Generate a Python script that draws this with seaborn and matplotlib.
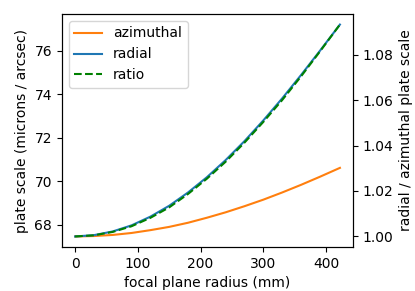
import matplotlib
matplotlib.use("Agg")
import matplotlib.pyplot as plt
import seaborn as sns
import pandas as pd

# values
radius_mm = [0, 30, 60, 90, 120, 150, 180, 210, 240, 270, 300, 330, 360, 390, 422]
azimuthal = [67.47, 67.49, 67.54, 67.63, 67.76, 67.91, 68.10, 68.33, 68.58, 68.86,
             69.16, 69.49, 69.84, 70.21, 70.62]
radial = [67.47, 67.53, 67.70, 67.98, 68.38, 68.88, 69.49, 70.19, 70.98, 71.85,
          72.80, 73.81, 74.88, 75.99, 77.20]
ratio = [1.0000, 1.0005, 1.0020, 1.0045, 1.0082, 1.0128, 1.0187, 1.0254, 1.0329, 1.0413,
         1.0504, 1.0600, 1.0704, 1.0813, 1.0932]

df = pd.DataFrame({"r": radius_mm, "azimuthal": azimuthal, "radial": radial, "ratio": ratio})

fig, ax1 = plt.subplots(figsize=(4.15, 2.91), dpi=100)
fig.subplots_adjust(left=0.149, right=0.851, bottom=0.151, top=0.952)

sns.lineplot(data=df, x="r", y="azimuthal", ax=ax1, color="C1", label="azimuthal", legend=False)
sns.lineplot(data=df, x="r", y="radial", ax=ax1, color="C0", label="radial", legend=False)
ax1.set_xlabel("focal plane radius (mm)")
ax1.set_ylabel("plate scale (microns / arcsec)")

ax2 = ax1.twinx()
sns.lineplot(data=df, x="r", y="ratio", ax=ax2, color="g", linestyle="--", label="ratio", legend=False)
ax2.set_ylabel("radial / azimuthal plate scale")
ax2.set_yticks([1.00, 1.02, 1.04, 1.06, 1.08])

h1, l1 = ax1.get_legend_handles_labels()
h2, l2 = ax2.get_legend_handles_labels()
ax2.legend(h1 + h2, l1 + l2, loc="upper left")

fig.savefig("out.png", dpi=100)
